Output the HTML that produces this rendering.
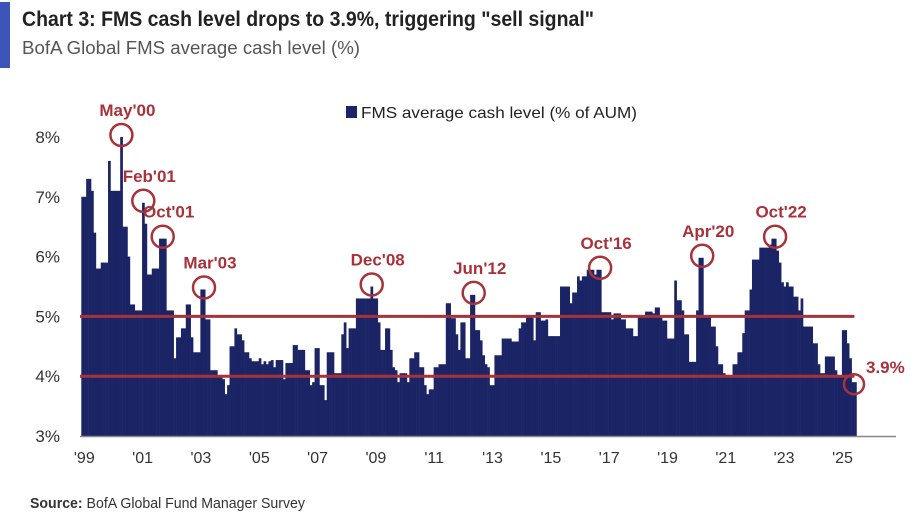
<!DOCTYPE html>
<html><head><meta charset="utf-8"><style>
html,body{margin:0;padding:0;background:#fff;}
svg{display:block;font-family:"Liberation Sans",sans-serif;}
</style></head><body>
<svg id="chart" width="914" height="522" viewBox="0 0 914 522" xmlns="http://www.w3.org/2000/svg">
<rect x="0" y="0" width="914" height="522" fill="#fff"/>
<rect x="0" y="2" width="10" height="66" fill="#3b56b8"/>
<text x="22" y="26" font-size="21" font-weight="bold" fill="#222" textLength="572" lengthAdjust="spacingAndGlyphs">Chart 3: FMS cash level drops to 3.9%, triggering "sell signal"</text>
<text x="22" y="54" font-size="18" fill="#555" textLength="338" lengthAdjust="spacingAndGlyphs">BofA Global FMS average cash level (%)</text>
<rect x="346" y="106" width="11" height="12" fill="#1b2465"/>
<text x="361" y="118" font-size="16" fill="#222" textLength="276" lengthAdjust="spacingAndGlyphs">FMS average cash level (% of AUM)</text>
<g id="bars"></g>
<g id="axes"></g>
<g id="annots"></g>
<text x="30" y="508" font-size="15" fill="#333" textLength="275" lengthAdjust="spacingAndGlyphs"><tspan font-weight="bold">Source:</tspan> BofA Global Fund Manager Survey</text>
</svg>
<script>
const startYear = 1999;
const values = [
7.0,7.0,7.3,7.3,7.1,6.4,5.8,5.8,5.9,5.9,5.9,7.6,
7.1,7.1,7.1,7.1,8.0,6.5,6.5,6.0,5.2,5.2,5.1,5.1,
5.1,6.9,6.55,5.7,5.7,5.8,5.8,5.8,6.3,6.3,6.3,5.1,
5.1,5.1,4.3,4.65,4.65,4.8,4.8,5.2,5.2,4.65,4.4,4.4,
4.4,5.45,5.45,4.95,4.95,4.1,4.1,4.1,3.98,3.98,3.95,3.7,
3.85,4.5,4.5,4.8,4.7,4.7,4.6,4.4,4.4,4.3,4.25,4.25,
4.25,4.3,4.2,4.25,4.2,4.25,4.27,4.15,4.27,4.27,4.27,3.95,
4.22,4.22,4.22,4.52,4.52,4.44,4.44,4.44,4.1,4.1,3.85,3.9,
4.47,4.47,3.85,3.85,3.6,4.4,4.4,4.4,4.05,4.05,4.05,4.7,
4.9,4.47,4.8,4.8,4.8,5.3,5.3,5.3,5.3,5.3,5.3,5.5,
5.3,5.3,4.9,4.44,4.44,4.8,4.8,4.44,4.15,4.1,3.9,4.05,
4.05,4.05,3.9,4.3,4.3,4.4,4.4,4.15,4.15,3.85,3.7,3.78,
3.78,4.15,4.15,4.2,4.2,4.2,5.22,5.22,4.97,4.97,4.7,4.44,
4.9,4.9,4.3,4.3,5.36,5.36,4.77,4.77,4.6,4.35,4.2,4.15,
3.85,3.85,4.35,4.35,4.35,4.63,4.63,4.63,4.63,4.58,4.58,4.58,
4.8,4.9,4.9,5.0,5.0,5.0,4.6,5.07,5.07,4.93,4.93,4.95,
4.67,4.67,4.67,4.67,4.67,5.5,5.5,5.5,5.5,5.22,5.4,5.4,
5.67,5.6,5.67,5.67,5.78,5.78,5.78,5.7,5.78,5.78,5.07,5.07,
5.07,5.07,4.95,5.05,5.05,5.05,4.95,4.95,4.8,4.8,4.8,4.67,
4.67,5.0,5.0,5.0,5.08,5.08,5.08,5.05,5.15,5.15,5.0,4.93,
4.93,4.63,4.63,4.63,5.6,5.27,5.27,5.1,4.7,4.7,4.24,4.24,
4.24,5.1,5.98,5.98,5.0,5.0,5.0,4.83,4.83,4.5,4.2,4.2,
4.05,4.0,4.0,4.0,4.2,4.2,4.4,4.4,4.72,5.1,5.1,5.45,
5.95,5.95,5.95,6.15,6.15,6.15,6.15,6.2,6.3,6.3,6.1,5.9,
5.57,5.5,5.57,5.5,5.5,5.33,5.33,5.1,5.3,4.83,4.83,4.83,
4.83,4.55,4.55,4.2,4.05,4.05,4.33,4.33,4.33,4.33,4.1,4.02,
4.02,4.77,4.77,4.55,4.3,3.9,3.9
];
const yTicks = [3,4,5,6,7,8];
const yTickLabels = ["3%","4%","5%","6%","7%","8%"];
const xTickYears = [1999,2001,2003,2005,2007,2009,2011,2013,2015,2017,2019,2021,2023,2025];
const xTickLabels = ["'99","'01","'03","'05","'07","'09","'11","'13","'15","'17","'19","'21","'23","'25"];
const thresholds = [5,4];
const annotLabels = ["May'00","Feb'01","Oct'01","Mar'03","Dec'08","Jun'12","Oct'16","Apr'20","Oct'22"];
const annotMonths = [16,25,33,50,119,161,213,255,285];

const NS="http://www.w3.org/2000/svg";
const X0=81.3, MW=2.43, Y0=436, PPU=59.8;
function xMonth(m){return X0+m*MW;}
function yVal(v){return Y0-(v-3)*PPU;}
function mk(tag,attrs,parent){const e=document.createElementNS(NS,tag);for(const k in attrs)e.setAttribute(k,attrs[k]);parent.appendChild(e);return e;}
const bars=document.getElementById('bars'),axes=document.getElementById('axes'),ann=document.getElementById('annots');
const RED="#a8323a";

values.forEach((v,i)=>{
  const r=mk('rect',{x:xMonth(i).toFixed(2),y:yVal(v).toFixed(2),width:(MW+0.3).toFixed(2),height:(Y0-yVal(v)).toFixed(2),fill:'#1b2465'},bars);
  
  
});
const bl=mk('line',{x1:80,x2:896,y1:Y0+0.5,y2:Y0+0.5,stroke:'#888','stroke-width':1.5},axes);


yTicks.forEach((t,i)=>{
  const tx=mk('text',{x:60,y:(yVal(t)+6).toFixed(1),'font-size':17,'text-anchor':'end',fill:'#333'},axes);
  tx.textContent=yTickLabels[i];
  
  
});
xTickYears.forEach((yr,i)=>{
  const m=(yr-startYear)*12;
  const tx=mk('text',{x:(xMonth(m)+3).toFixed(1),y:463,'font-size':16,'text-anchor':'middle',fill:'#333'},axes);
  tx.textContent=xTickLabels[i];
  
  
});
thresholds.forEach(t=>{
  const l=mk('line',{x1:80,x2:xMonth(values.length)-2,y1:yVal(t),y2:yVal(t),stroke:RED,'stroke-width':3},axes);
  
  
});
annotLabels.forEach((lab,i)=>{
  const m=annotMonths[i];
  const cx=xMonth(m)+1.2, cy=yVal(values[m])-2;
  const c=mk('circle',{cx:cx.toFixed(1),cy:cy.toFixed(1),r:11,fill:'none',stroke:RED,'stroke-width':2.5},ann);
  
  
  const tx=mk('text',{x:(cx+6).toFixed(1),y:(cy-19).toFixed(1),'font-size':17,'font-weight':'bold','text-anchor':'middle',fill:RED},ann);
  tx.textContent=lab;
  
  
});
const lastI=values.length-1;
const lc=mk('circle',{cx:(xMonth(lastI)).toFixed(1),cy:(yVal(values[lastI])+2).toFixed(1),r:10,fill:'none',stroke:RED,'stroke-width':2.5},ann);


const lt=mk('text',{x:866,y:373,'font-size':17,'font-weight':'bold',fill:RED},ann);
lt.textContent=values[lastI].toFixed(1)+"%";


</script>
</body></html>
